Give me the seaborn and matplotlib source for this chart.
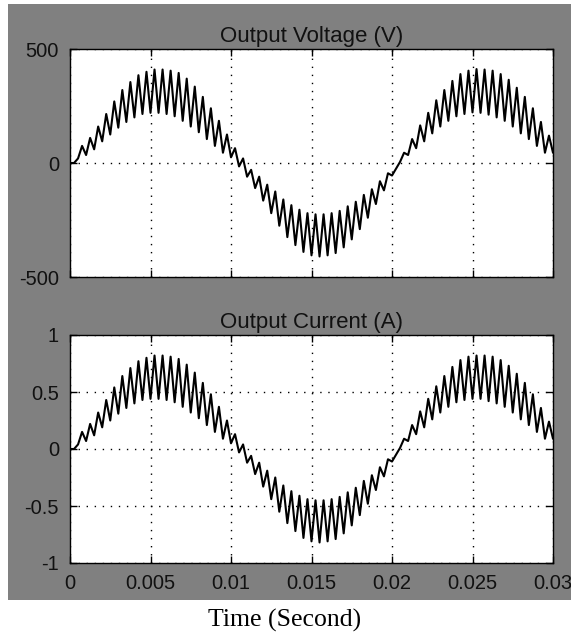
import numpy as np
import pandas as pd
import matplotlib
matplotlib.use("Agg")
import matplotlib.pyplot as plt
from matplotlib.patches import Rectangle
import seaborn as sns

# ---- data (one trough/peak pair per ripple cycle) ----
ripple_period = 0.0005   # s, ~60 ripple cycles over 0.03 s
t_end = 0.03

voltage_trough = [0, 20, 35, 60, 95, 125, 155, 180, 200, 215,
                  220, 220, 215, 205, 185, 160, 135, 105, 75, 45,
                  25, -15, -60, -110, -165, -220, -275, -325, -360, -390,
                  -405, -410, -405, -395, -370, -335, -290, -240, -180, -120,
                  -55, 5, 35, 65, 95, 130, 160, 185, 205, 215,
                  222, 220, 212, 200, 185, 160, 130, 105, 75, 45]
voltage_peak = [0, 75, 110, 160, 215, 270, 320, 355, 385, 400,
                410, 410, 405, 395, 370, 335, 290, 240, 185, 125,
                65, 20, -30, -60, -95, -125, -160, -185, -205, -220,
                -225, -225, -220, -210, -190, -170, -140, -115, -80, -45,
                -25, 45, 105, 165, 220, 275, 320, 360, 390, 405,
                412, 410, 405, 390, 365, 330, 290, 240, 180, 120]
voltage_end = 45

current_trough = [0.0, 0.04, 0.07, 0.12, 0.19, 0.25, 0.31, 0.36, 0.40, 0.43,
                  0.44, 0.44, 0.43, 0.41, 0.37, 0.32, 0.27, 0.21, 0.15, 0.09,
                  0.05, -0.03, -0.12, -0.22, -0.33, -0.44, -0.55, -0.65, -0.72, -0.78,
                  -0.81, -0.82, -0.81, -0.79, -0.74, -0.67, -0.58, -0.48, -0.36, -0.24,
                  -0.11, 0.01, 0.07, 0.13, 0.19, 0.26, 0.32, 0.37, 0.41, 0.43,
                  0.44, 0.44, 0.42, 0.40, 0.37, 0.32, 0.26, 0.21, 0.15, 0.09]
current_peak = [0.0, 0.15, 0.22, 0.32, 0.43, 0.54, 0.64, 0.71, 0.77, 0.80,
                0.82, 0.82, 0.81, 0.79, 0.74, 0.67, 0.58, 0.48, 0.37, 0.25,
                0.13, 0.04, -0.06, -0.12, -0.19, -0.25, -0.32, -0.37, -0.41, -0.44,
                -0.45, -0.45, -0.44, -0.42, -0.38, -0.34, -0.28, -0.23, -0.16, -0.09,
                -0.05, 0.09, 0.21, 0.33, 0.44, 0.55, 0.64, 0.72, 0.78, 0.81,
                0.82, 0.82, 0.81, 0.78, 0.73, 0.66, 0.58, 0.48, 0.36, 0.24]
current_end = 0.09

x_ticks = [0, 0.005, 0.01, 0.015, 0.02, 0.025, 0.03]
x_tick_labels = ["0", "0.005", "0.01", "0.015", "0.02", "0.025", "0.03"]
v_ticks = [-500, 0, 500]
i_ticks = [-1, -0.5, 0, 0.5, 1]
i_tick_labels = ["-1", "-0.5", "0", "0.5", "1"]

titles = ["Output Voltage (V)", "Output Current (A)"]
xlabel = "Time (Second)"


def build_frame(troughs, peaks, end_value):
    n = len(troughs)
    values = []
    for tr, pk in zip(troughs, peaks):
        values.extend([tr, pk])
    values.append(end_value)
    times = np.arange(2 * n + 1) * (ripple_period / 2)
    return pd.DataFrame({"t": times, "y": values})


df_v = build_frame(voltage_trough, voltage_peak, voltage_end)
df_i = build_frame(current_trough, current_peak, current_end)

# ---- figure ----
sns.set_style("white")
plt.rcParams["font.family"] = ["Liberation Sans", "DejaVu Sans"]

W, H = 571, 636
fig = plt.figure(figsize=(W / 100, H / 100), dpi=100, facecolor="white")

gray = Rectangle((8 / W, 1 - 600 / H), 1 - 8 / W, (600 - 4) / H,
                 transform=fig.transFigure, facecolor="#808080",
                 edgecolor="none", zorder=-10)
fig.add_artist(gray)

left, right = 70 / W, 553 / W
ax1 = fig.add_axes([left, 1 - 277 / H, right - left, (277 - 49) / H])
ax2 = fig.add_axes([left, 1 - 563 / H, right - left, (563 - 335) / H])

for ax, df, ylim, yt, ytl, title in [
    (ax1, df_v, (-500, 500), v_ticks, [str(v) for v in v_ticks], titles[0]),
    (ax2, df_i, (-1, 1), i_ticks, i_tick_labels, titles[1]),
]:
    ax.set_facecolor("white")
    sns.lineplot(data=df, x="t", y="y", ax=ax, color="black", linewidth=1.5,
                 estimator=None, sort=False)
    ax.set_xlim(0, t_end)
    ax.set_ylim(*ylim)
    ax.set_xticks(x_ticks)
    ax.set_yticks(yt)
    ax.set_yticklabels(ytl)
    ax.set_xlabel("")
    ax.set_ylabel("")
    ax.grid(True, color="black", linestyle=(0, (1, 4.8)), linewidth=1.0)
    ax.set_axisbelow(True)
    for s in ax.spines.values():
        s.set_visible(True)
        s.set_color("black")
        s.set_linewidth(1.0)
    ax.tick_params(direction="in", length=5, width=1, colors="black",
                   top=True, right=True, bottom=True, left=True,
                   labelsize=14.5, pad=8, labelcolor="#111111")
    ax.set_title(title, fontsize=16, color="#111111", pad=5)

ax1.set_xticklabels([])
ax2.set_xticklabels(x_tick_labels)

fig.text(285 / W, 1 - 620 / H, xlabel, ha="center", va="center",
         fontsize=18.5, family=["Liberation Serif", "DejaVu Serif"], color="black")

fig.savefig("out.png", dpi=100, facecolor="white")
